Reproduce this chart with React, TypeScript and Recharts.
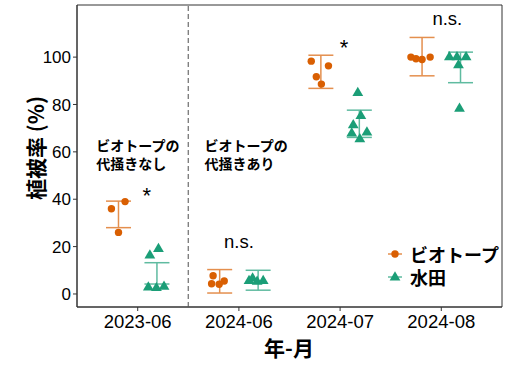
import { ScatterChart, Scatter, XAxis, YAxis, ErrorBar, ReferenceLine, ReferenceArea, ReferenceDot, Legend } from "recharts"

const groups = ["2023-06", "2024-06", "2024-07", "2024-08"]
const seriesNames = ["ビオトープ", "水田"]

// coverage (%) per survey, one inner list per group
const biotopeValues = [
  [36, 39, 26],
  [7.7, 4.3, 4.1, 5.5],
  [98.3, 96.3, 91.7, 88.6],
  [100, 99.3, 99, 100],
]
const biotopeJitter = [
  [-0.07, 0.065, 0],
  [-0.065, -0.08, -0.005, 0.045],
  [-0.095, 0.075, -0.045, 0.005],
  [-0.11, -0.06, 0, 0.08],
]
const paddyValues = [
  [16.3, 19, 2.8, 2.5, 3.1],
  [6.6, 5.5, 5.2, 5.5],
  [84.9, 75.2, 71.3, 67.8, 68.2, 65.4],
  [100, 100, 100, 96.6, 78.2],
]
const paddyJitter = [
  [-0.07, 0.015, -0.085, -0.005, 0.07],
  [-0.055, -0.09, -0.01, 0.05],
  [-0.015, 0.015, -0.06, -0.075, 0.075, 0.005],
  [-0.11, -0.035, 0.055, -0.02, -0.01],
]
const biotopeLow = [28, 0.4, 86.8, 92.1]
const biotopeHigh = [39.2, 10.3, 100.8, 108.3]
const paddyLow = [4.2, 1.6, 66.1, 89.2]
const paddyHigh = [13.2, 10, 77.6, 102.1]

const sigLabels = ["*", "n.s.", "*", "n.s."]
const sigX = [1.09, 2, 3.04, 4.06]
const sigY = [41.6, 22.1, 104, 116.3]

const phaseNotes = [["ビオトープの", "代掻きなし"], ["ビオトープの", "代掻きあり"]]
const phaseX = [0.59, 1.66]
const phaseY = [62.9, 55.3]

const ORANGE = "#D95F02"
const GREEN = "#1B9E77"
const ORANGE_BAR = "#E48F4E"
const GREEN_BAR = "#5FBBA0"
const LATIN = '"Liberation Sans", Arial, sans-serif'
const JP = '"Noto Sans CJK JP", sans-serif'

const dodge = [-0.19, 0.19]

const makePoints = (values: number[][], jitter: number[][], s: number) =>
  values.flatMap((vs, g) => vs.map((v, i) => ({ x: g + 1 + dodge[s] + jitter[g][i], y: v })))

const makeBars = (lo: number[], hi: number[], s: number) =>
  lo.map((l, g) => ({ x: g + 1 + dodge[s], y: (l + hi[g]) / 2, err: (hi[g] - l) / 2 }))

const biotopePoints = makePoints(biotopeValues, biotopeJitter, 0)
const paddyPoints = makePoints(paddyValues, paddyJitter, 1)
const biotopeBars = makeBars(biotopeLow, biotopeHigh, 0)
const paddyBars = makeBars(paddyLow, paddyHigh, 1)

const Dot = (p: any) => <circle cx={p.cx} cy={p.cy} r={3.7} fill={ORANGE} />

const Tri = (p: any) => {
  const h = 9.2
  const w = 5.4
  return (
    <path
      d={`M${p.cx},${p.cy - (h * 2) / 3} L${p.cx + w},${p.cy + h / 3} L${p.cx - w},${p.cy + h / 3} Z`}
      fill={GREEN}
    />
  )
}

const Empty = () => <g />

function renderLegend() {
  return (
    <div style={{ fontFamily: JP, fontSize: 18, fontWeight: 700, color: "#000" }}>
      {seriesNames.map((n, i) => (
        <div key={n} style={{ display: "flex", alignItems: "center", height: 22.4 }}>
          <svg width={16} height={12}>
            <line x1={1} x2={15} y1={6} y2={6} stroke={i === 0 ? ORANGE_BAR : GREEN_BAR} strokeWidth={1.5} />
            {i === 0 ? <Dot cx={8} cy={6} /> : <Tri cx={8} cy={6.5} />}
          </svg>
          <span style={{ marginLeft: 7, lineHeight: "22px" }}>{n}</span>
        </div>
      ))}
    </div>
  )
}

const AnnoText = (text: string, size: number) => (props: any) => {
  const { x, y } = props.viewBox
  return (
    <text x={x} y={y} textAnchor="middle" dominantBaseline="central" fontFamily={LATIN} fontSize={size} fill="#000">
      {text}
    </text>
  )
}

const NoteText = (text: string) => (props: any) => {
  const { x, y } = props.viewBox
  return (
    <text x={x} y={y} fontFamily={JP} fontSize={14} fontWeight={700} fill="#000" dominantBaseline="central">
      {text}
    </text>
  )
}

export default function App() {
  return (
    <div style={{ position: "absolute", left: 0, top: 0 }}>
      <ScatterChart width={513} height={372} margin={{ top: 5, right: 11, bottom: 0, left: 0 }}>
        <XAxis
          type="number"
          dataKey="x"
          domain={[0.4, 4.6]}
          ticks={[1, 2, 3, 4]}
          tickFormatter={(v) => groups[v - 1]}
          allowDataOverflow
          height={65}
          tickSize={4}
          tickMargin={4}
          stroke="#333"
          tick={{ fontSize: 18.5, fill: "#000", fontFamily: LATIN }}
          label={{
            content: () => (
              <text x={289} y={346.7} textAnchor="middle" dominantBaseline="central" fontFamily={JP} fontSize={21} fontWeight={700} fill="#000">
                年-月
              </text>
            ),
          }}
        />
        <YAxis
          type="number"
          dataKey="y"
          domain={[-5.5, 122]}
          ticks={[0, 20, 40, 60, 80, 100]}
          allowDataOverflow
          width={77}
          tickSize={4}
          stroke="#333"
          tick={{ fontSize: 17, fill: "#000", fontFamily: LATIN }}
          label={{
            content: () => (
              <text
                x={35}
                y={148}
                transform="rotate(-90 35 148)"
                textAnchor="middle"
                dominantBaseline="central"
                fontFamily={JP}
                fontSize={21}
                fontWeight={700}
                fill="#000"
              >
                植被率 (%)
              </text>
            ),
          }}
        />
        <ReferenceLine x={1.5} stroke="#808080" strokeDasharray="5 3" strokeWidth={1.4} />
        <Scatter name="biotope-bars" data={biotopeBars} shape={Empty} isAnimationActive={false} legendType="none">
          <ErrorBar dataKey="err" direction="y" width={12.5} stroke={ORANGE_BAR} strokeWidth={1.5} isAnimationActive={false} />
        </Scatter>
        <Scatter name="paddy-bars" data={paddyBars} shape={Empty} isAnimationActive={false} legendType="none">
          <ErrorBar dataKey="err" direction="y" width={12.5} stroke={GREEN_BAR} strokeWidth={1.5} isAnimationActive={false} />
        </Scatter>
        <Scatter name={seriesNames[0]} data={biotopePoints} shape={Dot} isAnimationActive={false} />
        <Scatter name={seriesNames[1]} data={paddyPoints} shape={Tri} isAnimationActive={false} />
        {sigLabels.map((s, i) => (
          <ReferenceDot
            key={"sig" + i}
            x={sigX[i]}
            y={sigY[i]}
            r={0}
            fill="none"
            stroke="none"
            label={{ content: AnnoText(s, s === "*" ? 22 : 18.5) }}
          />
        ))}
        {phaseNotes.flatMap((lines, i) =>
          lines.map((line, j) => (
            <ReferenceDot
              key={"note" + i + j}
              x={phaseX[i]}
              y={phaseY[j]}
              r={0}
              fill="none"
              stroke="none"
              label={{ content: NoteText(line) }}
            />
          ))
        )}
        <ReferenceArea x1={0.4} x2={4.6} y1={-5.5} y2={122} fill="none" fillOpacity={0} stroke="#333" strokeWidth={1} />
        <Legend
          layout="vertical"
          align="center"
          verticalAlign="middle"
          content={renderLegend}
          wrapperStyle={{ left: 387, top: 243, width: "auto" }}
        />
      </ScatterChart>
    </div>
  )
}
